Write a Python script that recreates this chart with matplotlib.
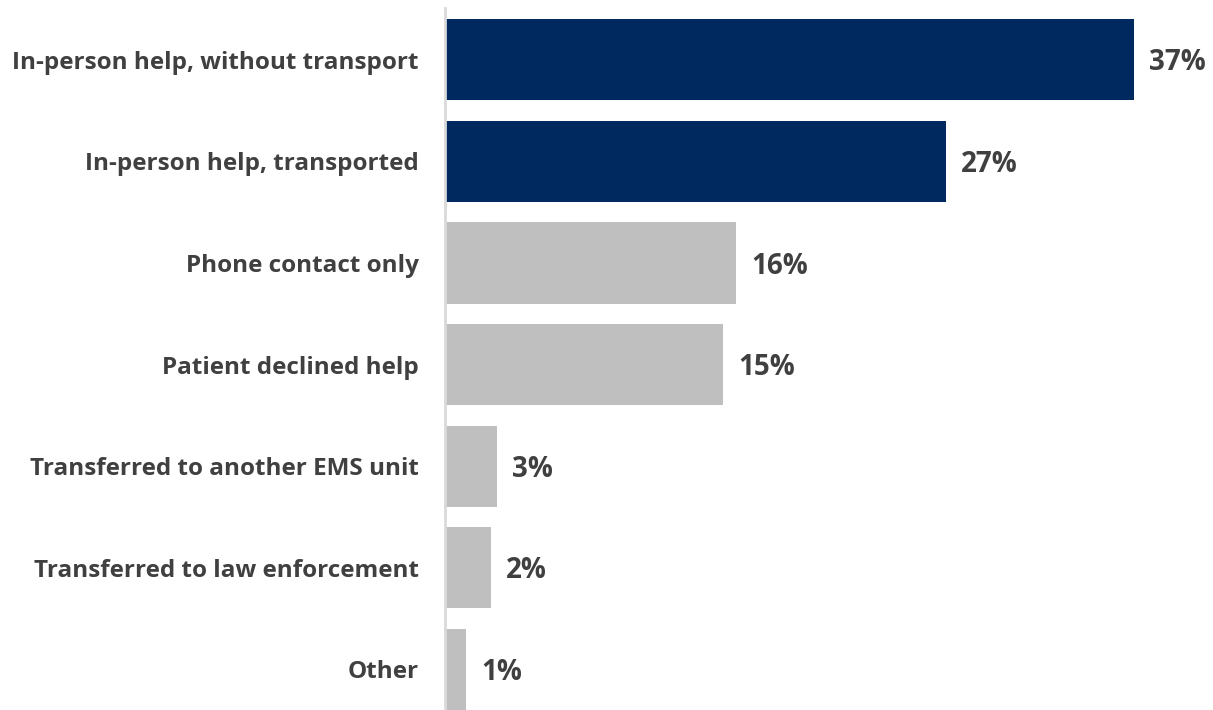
import matplotlib.pyplot as plt

# Data
categories = ["In-person help, without transport", "In-person help, transported",
              "Phone contact only", "Patient declined help",
              "Transferred to another EMS unit", "Transferred to law enforcement", "Other"]
values = [37.0, 26.9, 15.6, 14.9, 2.75, 2.4, 1.1]
labels = ["37%", "27%", "16%", "15%", "3%", "2%", "1%"]
colors = ["#002960", "#002960", "#bfbfbf", "#bfbfbf", "#bfbfbf", "#bfbfbf", "#bfbfbf"]

plt.rcParams['font.family'] = ['Open Sans', 'DejaVu Sans']

fig = plt.figure(figsize=(12.13, 7.10), dpi=100)
ax = fig.add_axes([445 / 1213, 0, 1 - 445 / 1213, 702 / 710])

ypos = list(range(len(categories)))
ax.barh(ypos, values, height=0.8, color=colors, left=0.05)

# value labels next to each bar
for y, v, lab in zip(ypos, values, labels):
    ax.text(v + 0.85, y + 0.03, lab, va='center', ha='left', fontsize=20,
            fontweight='bold', color='#404040')

ax.set_yticks(ypos)
ax.set_yticklabels(categories, fontsize=17.5, fontweight='bold', color='#404040')
ax.tick_params(axis='y', length=0, pad=19)
ax.set_xticks([])
ax.set_xlim(0, 41.3)
ax.set_ylim(6.4, -0.51)

for s in ['top', 'right', 'bottom']:
    ax.spines[s].set_visible(False)
ax.spines['left'].set_color('#d9d9d9')
ax.spines['left'].set_linewidth(2)

plt.savefig('out.png', dpi=100)
